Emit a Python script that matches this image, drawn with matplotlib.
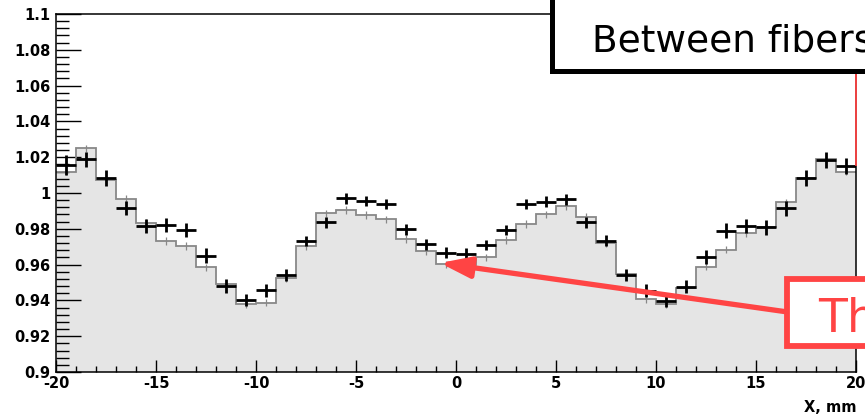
import numpy as np
import matplotlib
matplotlib.use('Agg')
import matplotlib.pyplot as plt
from matplotlib.patches import Rectangle

# bin edges, 1 mm bins
edges = np.arange(-20, 21, 1)
centers = edges[:-1] + 0.5

# simulation histogram (gray filled)
hist_vals = [1.0119, 1.0250, 1.0073, 0.9968, 0.9834, 0.9732, 0.9704, 0.9585, 0.9490, 0.9378,
             0.9387, 0.9523, 0.9704, 0.9887, 0.9905, 0.9877, 0.9853, 0.9743, 0.9676, 0.9602,
             0.9600, 0.9641, 0.9737, 0.9827, 0.9881, 0.9927, 0.9868, 0.9719, 0.9547, 0.9408,
             0.9380, 0.9468, 0.9588, 0.9684, 0.9775, 0.9810, 0.9948, 1.0082, 1.0190, 1.0119]
hist_err = [0.002] * 40

# measured points
data_vals = [1.0156, 1.0188, 1.0086, 0.9918, 0.9816, 0.9821, 0.9793, 0.9650, 0.9480, 0.9402,
             0.9456, 0.9542, 0.9732, 0.9836, 0.9970, 0.9955, 0.9939, 0.9797, 0.9713, 0.9666,
             0.9660, 0.9709, 0.9793, 0.9939, 0.9951, 0.9965, 0.9836, 0.9734, 0.9542, 0.9455,
             0.9398, 0.9477, 0.9644, 0.9790, 0.9816, 0.9808, 0.9915, 1.0082, 1.0184, 1.0151]
data_err = [0.0056, 0.0042, 0.0045, 0.0040, 0.0040, 0.0040, 0.0040, 0.0040, 0.0038, 0.0035,
            0.0035, 0.0032, 0.0030, 0.0030, 0.0030, 0.0030, 0.0030, 0.0030, 0.0030, 0.0030,
            0.0030, 0.0030, 0.0030, 0.0030, 0.0030, 0.0030, 0.0030, 0.0030, 0.0035, 0.0035,
            0.0035, 0.0038, 0.0040, 0.0040, 0.0040, 0.0042, 0.0042, 0.0045, 0.0045, 0.0045]

x_ticks = [-20, -15, -10, -5, 0, 5, 10, 15, 20]
x_tick_labels = ['-20', '-15', '-10', '-5', '0', '5', '10', '15', '20']
y_ticks = [0.9, 0.92, 0.94, 0.96, 0.98, 1.0, 1.02, 1.04, 1.06, 1.08, 1.1]
y_tick_labels = ['0.9', '0.92', '0.94', '0.96', '0.98', '1', '1.02', '1.04', '1.06', '1.08', '1.1']

red = '#ff4444'
W, H = 865, 417

fig = plt.figure(figsize=(W / 100, H / 100), dpi=100)
ax = fig.add_axes([56 / W, 1 - 372 / H, 800 / W, 358 / H])

ax.stairs(hist_vals, edges, baseline=0.9, fill=True, color='#e5e5e5', zorder=1)
ax.stairs(hist_vals, edges, baseline=None, color='#888888', lw=1.3, zorder=2)
ax.errorbar(centers, hist_vals, yerr=hist_err, fmt='none', ecolor='#888888', elinewidth=0.9, capsize=0, zorder=2)
ax.errorbar(centers, data_vals, xerr=0.5, yerr=data_err, fmt='none', ecolor='black', elinewidth=2.0, capsize=0, zorder=3)

ax.set_xlim(-20, 20)
ax.set_ylim(0.9, 1.1)
ax.set_xticks(x_ticks)
ax.set_xticklabels(x_tick_labels)
ax.set_yticks(y_ticks)
ax.set_yticklabels(y_tick_labels)
ax.set_xticks(np.arange(-20, 21, 1), minor=True)
ax.set_yticks(np.arange(0.9, 1.1001, 0.004), minor=True)
ax.tick_params(axis='x', which='major', direction='in', length=8.5, width=1.0, pad=3, top=False)
ax.tick_params(axis='x', which='minor', direction='in', length=4.3, width=1.0, top=False)
ax.tick_params(axis='y', which='major', direction='in', length=18, width=1.0, pad=4, right=False)
ax.tick_params(axis='y', which='minor', direction='in', length=9, width=1.0, right=False)
for lab in ax.get_xticklabels() + ax.get_yticklabels():
    lab.set_fontfamily('DejaVu Sans')
    lab.set_fontweight('bold')
    lab.set_fontsize(10.5)
for sp in ax.spines.values():
    sp.set_linewidth(1.1)

fig.text(856 / W, 1 - 412 / H, 'X, mm', ha='right', va='baseline',
         fontfamily='DejaVu Sans', fontweight='bold', fontsize=10.5)

# red line along the right edge
ax.plot([20, 20], [1.067, 1.0156], color=red, lw=1.3, clip_on=False, zorder=5)

# "Between fibers" box (cut off by the figure edge)
fig.patches.append(Rectangle((552 / W, 1 - 71 / H), 0.6, 0.6, transform=fig.transFigure,
                             facecolor='white', edgecolor='black', lw=3.6, zorder=10))
fig.text(592 / W, 1 - 51 / H, 'Between fibers', ha='left', va='baseline',
         fontfamily='DejaVu Sans', fontsize=27, color='black', zorder=11)

# red arrow and red box
ax.annotate('', xy=(-0.8, 0.9609), xytext=(16.6, 0.9335),
            arrowprops=dict(arrowstyle='-|>,head_length=1.3,head_width=0.45', color=red, lw=3.8,
                            shrinkA=0, shrinkB=0, mutation_scale=14),
            annotation_clip=False, zorder=6)
fig.patches.append(Rectangle((787 / W, 1 - 345.5 / H), 0.5, 66.5 / H, transform=fig.transFigure,
                             facecolor='white', edgecolor=red, lw=4.2, zorder=10))
fig.text(818 / W, 1 - 332 / H, 'Th', ha='left', va='baseline',
         fontfamily='DejaVu Sans', fontsize=34, color=red, zorder=11)

fig.savefig('out.png', dpi=100)
